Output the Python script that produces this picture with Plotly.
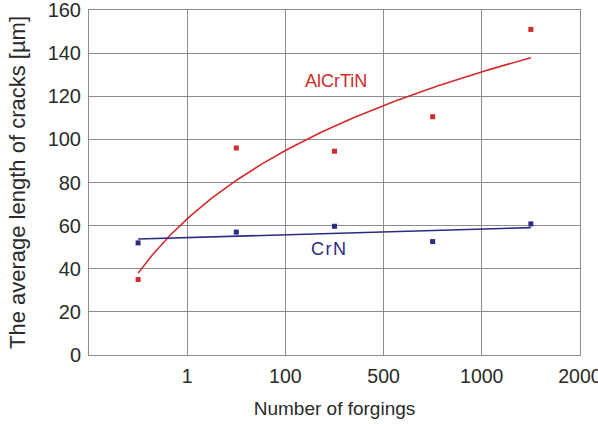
import numpy as np
import plotly.graph_objects as go

# Data (x positions are category slots between tick labels)
x_pos = [0.5, 1.5, 2.5, 3.5, 4.5]
alcrtin = [35, 96, 94.5, 110.5, 151]
crn = [52, 57, 59.7, 52.6, 60.8]
tick_vals = [1, 2, 3, 4, 5]
tick_text = ["1", "100", "500", "1000", "2000"]

RED = "#d22b2b"
BLUE = "#2b2b82"
GRID = "#8c8c8c"
FONT = "Liberation Sans"

# Trend lines fitted from the data (log fit for AlCrTiN, linear for CrN), Excel-style index k=1..n
k = np.arange(1, len(x_pos) + 1)
b_log, a_log = np.polyfit(np.log(k), alcrtin, 1)
b_lin, a_lin = np.polyfit(k, crn, 1)
kk = np.linspace(1, len(x_pos), 200)
xx = kk - 0.5

fig = go.Figure()
fig.add_trace(go.Scatter(x=xx, y=a_log + b_log * np.log(kk), mode="lines",
                         line=dict(color=RED, width=1.6), hoverinfo="skip"))
fig.add_trace(go.Scatter(x=xx, y=a_lin + b_lin * kk, mode="lines",
                         line=dict(color=BLUE, width=1.6), hoverinfo="skip"))
fig.add_trace(go.Scatter(x=x_pos, y=alcrtin, mode="markers",
                         marker=dict(symbol="square", size=5, color=RED)))
fig.add_trace(go.Scatter(x=x_pos, y=crn, mode="markers",
                         marker=dict(symbol="square", size=5, color=BLUE)))

fig.add_annotation(x=2.515, y=127, text="AlCrTiN", showarrow=False,
                   font=dict(color=RED, size=18, family=FONT))
fig.add_annotation(x=2.44, y=49, text="C\u200ar\u200aN", showarrow=False,
                   font=dict(color=BLUE, size=18, family=FONT))

fig.update_layout(
    width=598, height=424,
    margin=dict(l=89, r=18, t=10, b=69),
    paper_bgcolor="white", plot_bgcolor="white",
    showlegend=False,
    font=dict(family=FONT, color="#2a2a2a"),
    xaxis=dict(range=[0, 5.0005], tickvals=tick_vals, ticktext=tick_text,
               showgrid=True, gridcolor=GRID, gridwidth=1,
               showline=True, linecolor=GRID, mirror=True,
               ticks="", tickfont=dict(size=19.5), zeroline=False,
               ticklabelstandoff=4, automargin=False, ticklabeloverflow="allow",
               title=dict(text="Number of forgings", font=dict(size=19))),
    yaxis=dict(range=[0, 160], dtick=20,
               showgrid=True, gridcolor=GRID, gridwidth=1,
               showline=True, linecolor=GRID, mirror=True,
               ticks="", tickfont=dict(size=20), zeroline=False,
               ticklabelstandoff=3, automargin=False, ticklabeloverflow="allow",
               title=dict(text="The average length of cracks [µm]", font=dict(size=22))),
)

fig.write_html("out.html", config={"displayModeBar": False},
               post_script="document.body.style.margin='0';")
